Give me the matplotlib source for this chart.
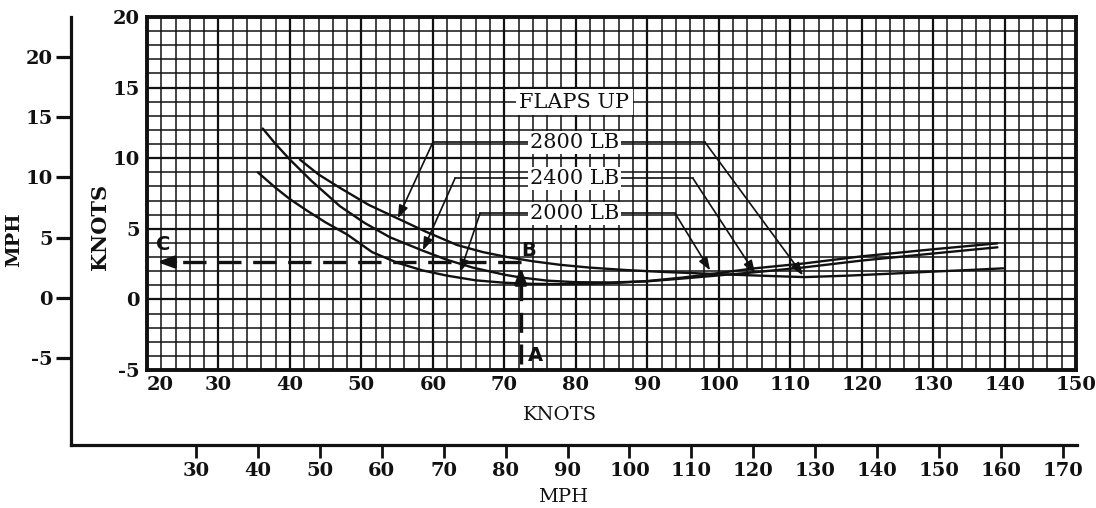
import matplotlib
matplotlib.use("Agg")
import matplotlib.pyplot as plt
from matplotlib.ticker import MultipleLocator

plt.rcParams["axes.unicode_minus"] = False

# ---------------------------------------------------------------------------
# Data: calibrated speed (knots) vs. correction (knots), flaps up
# ---------------------------------------------------------------------------
speed_2800 = [41.4, 44, 47, 51, 55, 59, 63.4, 67, 70.4, 74, 77.8, 82, 87, 92,
              97, 102, 107, 112, 118, 124, 130, 135, 139.8]
value_2800 = [9.9, 8.85, 7.9, 6.7, 5.75, 4.8, 3.85, 3.35, 3.0, 2.7, 2.45, 2.25,
              2.08, 1.95, 1.85, 1.75, 1.66, 1.58, 1.68, 1.82, 1.97, 2.08, 2.2]

speed_2400 = [36.2, 38, 40, 43, 47, 50.5, 54, 58.6, 62, 65.6, 70, 72.2, 76,
              80, 85, 90, 95, 100, 105, 112, 120, 130, 139]
value_2400 = [12.1, 11.0, 9.9, 8.4, 6.6, 5.4, 4.4, 3.45, 2.8, 2.25, 1.75, 1.56,
              1.33, 1.22, 1.2, 1.28, 1.48, 1.7, 1.92, 2.27, 2.75, 3.25, 3.69]

speed_2000 = [35.5, 38, 40, 42.5, 45, 48, 51.5, 55, 58.5, 62, 66, 70, 74, 78,
              82, 86, 90, 95, 99, 105, 112, 120, 130, 139]
value_2000 = [9.0, 7.9, 7.1, 6.25, 5.45, 4.6, 3.35, 2.6, 2.06, 1.68, 1.35, 1.18,
              1.1, 1.08, 1.1, 1.18, 1.3, 1.55, 1.8, 2.2, 2.55, 3.05, 3.55, 3.97]

weight_labels = ["2800 LB", "2400 LB", "2000 LB"]
title_label = "FLAPS UP"

knot_xticks = list(range(20, 151, 10))
knot_yticks = [-5, 0, 5, 10, 15, 20]
mph_xticks = list(range(30, 171, 10))
mph_yticks = [-5, 0, 5, 10, 15, 20]

# Worked example A -> B -> C
example_speed = 72.3
example_start = -4.6
example_reach = 2.3
example_level = 2.65
example_end = 21.4

INK = "#111111"
SERIF = "DejaVu Serif"
SANS = "DejaVu Sans"

W, H = 1096, 508
fig = plt.figure(figsize=(W / 100, H / 100), dpi=100)
fig.patch.set_facecolor("white")


def box(left, top, right, bottom):
    return [left / W, 1 - bottom / H, (right - left) / W, (bottom - top) / H]


# ---------------------------------------------------------------------------
# Outer MPH scales (left and bottom)
# ---------------------------------------------------------------------------
outer = fig.add_axes(box(71, 17, 1077, 445), zorder=0)
outer.set_facecolor("none")
outer.set_xlim(9.82, 172.26)
outer.set_ylim(-12.2, 23.32)
for side in ("top", "right"):
    outer.spines[side].set_visible(False)
for side in ("left", "bottom"):
    outer.spines[side].set_linewidth(2.3)
    outer.spines[side].set_color(INK)
outer.set_xticks(mph_xticks)
outer.set_yticks(mph_yticks)
outer.tick_params(axis="y", length=11, width=2.3, color=INK, pad=2,
                  labelsize=14, labelcolor=INK)
outer.tick_params(axis="x", length=9, width=2.0, color=INK, pad=3,
                  labelsize=14, labelcolor=INK)
for lbl in outer.get_xticklabels() + outer.get_yticklabels():
    lbl.set_fontfamily(SERIF)
    lbl.set_fontweight("bold")

# ---------------------------------------------------------------------------
# Main chart in knots
# ---------------------------------------------------------------------------
ax = fig.add_axes(box(147, 17, 1076, 370), zorder=2)
ax.set_facecolor("white")
ax.set_xlim(20, 150)
ax.set_ylim(-5, 20)
ax.xaxis.set_major_locator(MultipleLocator(10))
ax.xaxis.set_minor_locator(MultipleLocator(2))
ax.yaxis.set_major_locator(MultipleLocator(5))
ax.yaxis.set_minor_locator(MultipleLocator(1))
ax.set_xticks(knot_xticks)
ax.set_yticks(knot_yticks)
ax.grid(which="major", color=INK, linewidth=1.6)
ax.grid(which="minor", color=INK, linewidth=1.1)
ax.set_axisbelow(True)
ax.tick_params(which="both", length=0)
ax.tick_params(axis="x", pad=4, labelsize=14, labelcolor=INK)
ax.tick_params(axis="y", pad=5, labelsize=14, labelcolor=INK)
for lbl in ax.get_xticklabels() + ax.get_yticklabels():
    lbl.set_fontfamily(SERIF)
    lbl.set_fontweight("bold")
ax.get_xticklabels()[0].set_horizontalalignment("left")
for sp in ax.spines.values():
    sp.set_linewidth(2.8)
    sp.set_color(INK)

# Curves
for xs, ys in ((speed_2800, value_2800), (speed_2400, value_2400),
               (speed_2000, value_2000)):
    ax.plot(xs, ys, color=INK, linewidth=1.7, zorder=4,
            solid_capstyle="round", solid_joinstyle="round")

# Labels with leader arrows
label_x = 79.8
ax.text(label_x, 13.95, title_label, ha="center", va="center", fontsize=15,
        fontfamily=SERIF, color=INK, zorder=6,
        bbox=dict(facecolor="white", edgecolor="none", pad=2.5))

leaders = [
    # label y, left corner x, left tip, right corner x, right tip
    (11.12, 60.0, (55.1, 5.74), 98.1, (111.8, 1.70)),
    (8.57, 63.1, (58.6, 3.47), 96.4, (105.1, 1.84)),
    (6.09, 66.6, (63.8, 1.91), 93.9, (98.8, 2.05)),
]
arrow_kw = dict(arrowstyle="-|>,head_length=0.55,head_width=0.2",
                color=INK, lw=1.2, shrinkA=0, shrinkB=0, mutation_scale=14)
for text, (ly, lx, ltip, rx, rtip) in zip(weight_labels, leaders):
    ax.plot([lx, rx], [ly, ly], color=INK, linewidth=1.2, zorder=5)
    ax.annotate("", xy=ltip, xytext=(lx, ly), arrowprops=arrow_kw, zorder=5)
    ax.annotate("", xy=rtip, xytext=(rx, ly), arrowprops=arrow_kw, zorder=5)
    ax.text(label_x, ly, text, ha="center", va="center", fontsize=15,
            fontfamily=SERIF, color=INK, zorder=6,
            bbox=dict(facecolor="white", edgecolor="none", pad=1.5))

# Worked example: dashed path with arrows
ax.plot([example_speed, example_speed], [example_start, example_reach - 0.9],
        color=INK, linewidth=2.4, dashes=(6, 3.5), zorder=5)
ax.annotate("", xy=(example_speed, example_reach),
            xytext=(example_speed, example_reach - 1.2),
            arrowprops=dict(arrowstyle="-|>,head_length=0.6,head_width=0.22",
                            color=INK, lw=2.4, shrinkA=0, shrinkB=0,
                            mutation_scale=16), zorder=5)
ax.plot([example_speed, example_end + 2.0], [example_level, example_level],
        color=INK, linewidth=2.4, dashes=(7, 3.5), zorder=5)
ax.annotate("", xy=(example_end, example_level),
            xytext=(example_end + 2.6, example_level),
            arrowprops=dict(arrowstyle="-|>,head_length=0.6,head_width=0.22",
                            color=INK, lw=2.4, shrinkA=0, shrinkB=0,
                            mutation_scale=16), zorder=5)
for letter, pos in (("A", (74.3, -3.97)), ("B", (73.45, 3.47)),
                    ("C", (22.2, 3.9))):
    ax.text(*pos, letter, ha="center", va="center", fontsize=14,
            fontweight="bold", fontfamily=SANS, color=INK, zorder=6)

# Axis titles
fig.text(560 / W, 1 - 415 / H, "KNOTS", ha="center", va="center",
         fontsize=14, fontfamily=SERIF, color=INK)
fig.text(563 / W, 1 - 497 / H, "MPH", ha="center", va="center",
         fontsize=14, fontfamily=SERIF, color=INK)
fig.text(100 / W, 1 - 227 / H, "KNOTS", ha="center", va="center",
         rotation=90, fontsize=15, fontweight="bold", fontfamily=SERIF,
         color=INK)
fig.text(14 / W, 1 - 240 / H, "MPH", ha="center", va="center",
         rotation=90, fontsize=14, fontweight="bold", fontfamily=SERIF,
         color=INK)

fig.savefig("out.png", dpi=100, facecolor="white")
